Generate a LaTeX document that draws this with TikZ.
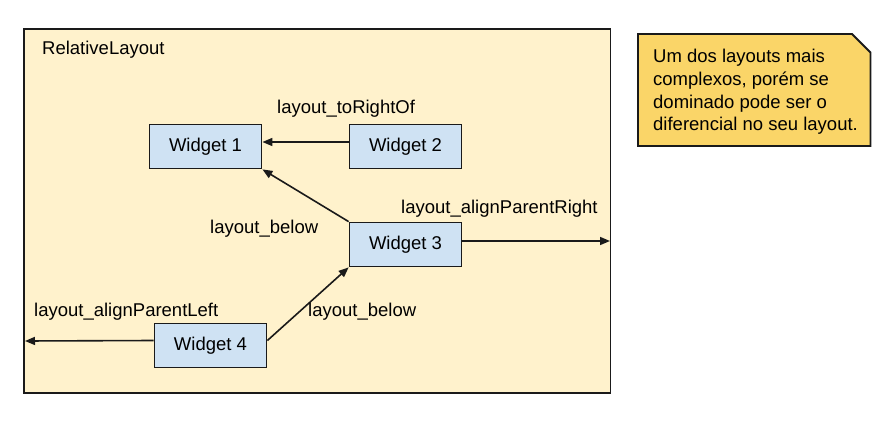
\documentclass[tikz,border=0pt]{standalone}
\usepackage{fontspec}
\setmainfont{Liberation Sans}
\usetikzlibrary{arrows.meta}
\definecolor{framefill}{HTML}{FFF2CC}
\definecolor{notefill}{HTML}{FAD568}
\definecolor{widgetfill}{HTML}{CFE2F3}
\definecolor{edge}{HTML}{1A1A1A}
\tikzset{
  widget/.style={draw=edge, line width=1.8pt, fill=widgetfill, minimum width=112pt, minimum height=44pt, inner sep=0pt, font=\fontsize{18.5}{22}\selectfont},
  lbl/.style={anchor=base west, inner sep=0pt, font=\fontsize{18.5}{22}\selectfont},
  conn/.style={draw=edge, line width=1.6pt, -{Triangle[length=10pt,width=8pt]}}
}
\begin{document}
\begin{tikzpicture}[x=1pt,y=-1pt]
\useasboundingbox (0,0) rectangle (893,422);
\fill[white] (0,0) rectangle (893,422);
% frame
\draw[draw=edge, line width=1.8pt, fill=framefill] (24,29) rectangle (610.5,393);
\node[lbl] (title) at (42,55) {RelativeLayout};
\coordinate (rightedge) at (610,241);
\coordinate (leftedge) at (25,341);
% note
\draw[draw=edge, line width=1.8pt, fill=notefill] (638,34) -- (852,34) -- (870.5,52.5) -- (870.5,146) -- (638,146) -- cycle;
\node[lbl, align=left, font=\fontsize{18.5}{22.7}\selectfont] (note) at (653,131) {Um dos layouts mais\\complexos, porém se\\dominado pode ser o\\diferencial no seu layout.};
% widgets
\node[widget] (w1) at (205.5,146.5) {Widget 1};
\node[widget] (w2) at (405.5,146.5) {Widget 2};
\node[widget] (w3) at (405.5,244.5) {Widget 3};
\node[widget] (w4) at (210.5,345.5) {Widget 4};
% connectors
\draw[conn] ([yshift=4.5pt]w2.west) -- ([yshift=4.5pt]w1.east);
\draw[conn] (w3.north west) -- (w1.south east);
\draw[conn] ([yshift=5pt]w4.east) -- (w3.south west);
\draw[conn] ([yshift=3.5pt]w3.east) -- (rightedge);
\draw[conn] ([yshift=5pt]w4.west) -- (leftedge);
% labels
\node[lbl] (l1) at (277,114) {layout\_toRightOf};
\node[lbl] (l2) at (210,233) {layout\_below};
\node[lbl] (l3) at (401,213) {layout\_alignParentRight};
\node[lbl] (l4) at (34,316) {layout\_alignParentLeft};
\node[lbl] (l5) at (308,316) {layout\_below};
\end{tikzpicture}
\end{document}
